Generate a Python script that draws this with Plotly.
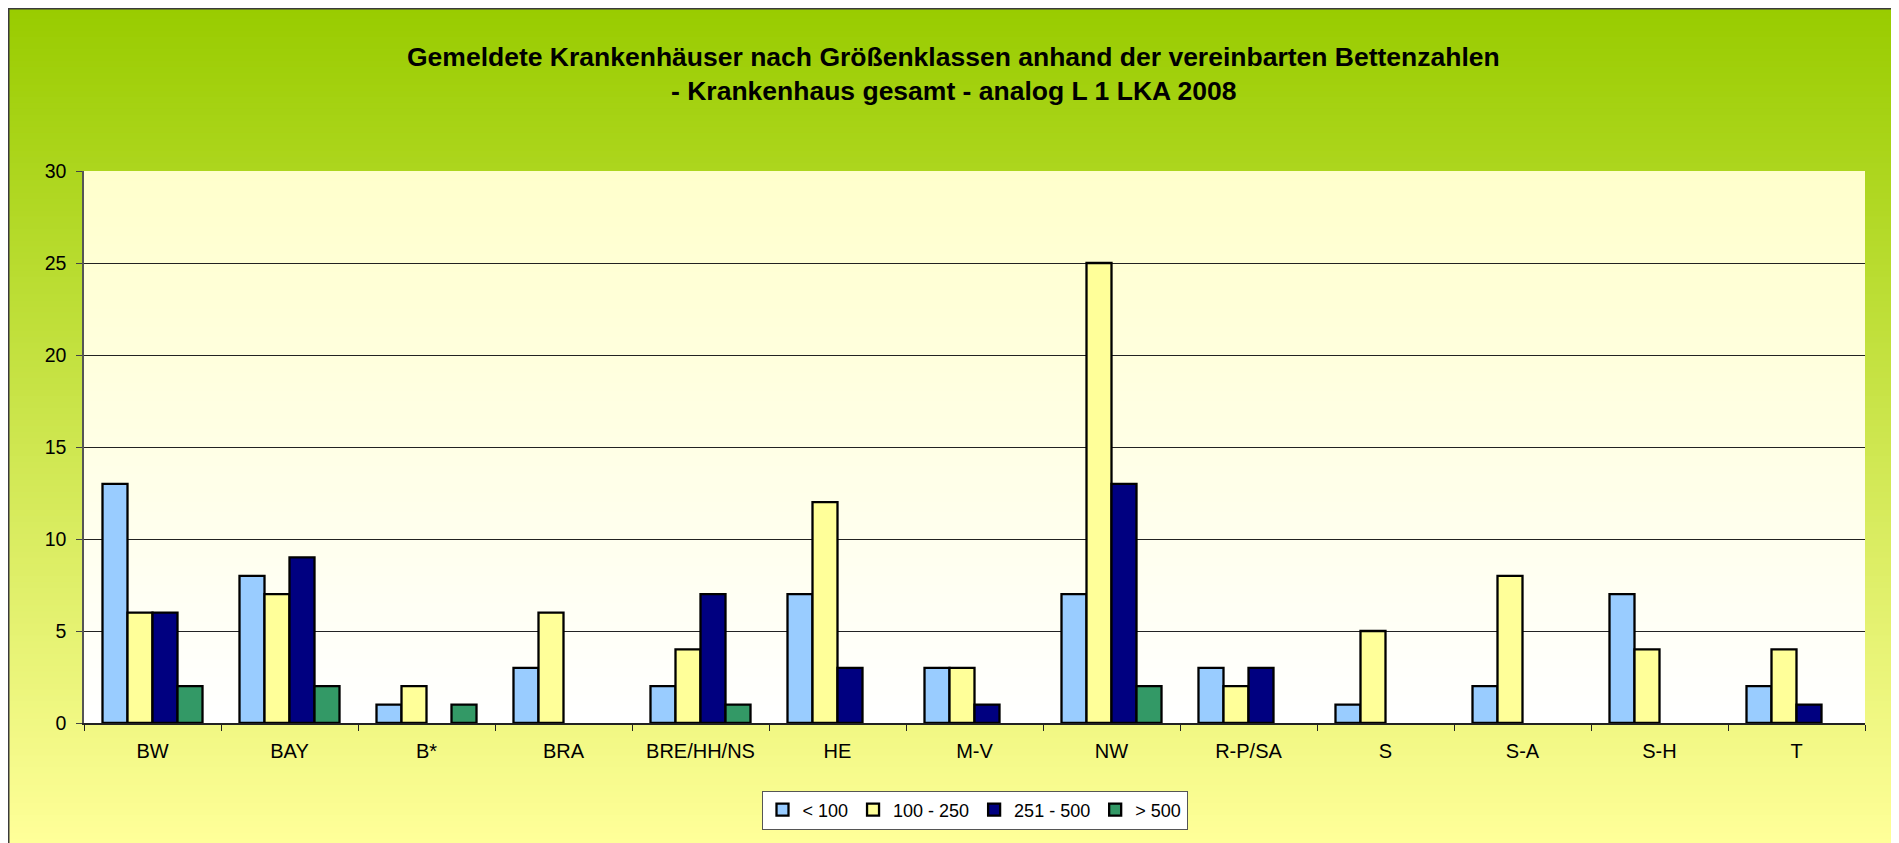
import plotly.graph_objects as go

categories = ["BW", "BAY", "B*", "BRA", "BRE/HH/NS", "HE", "M-V", "NW", "R-P/SA", "S", "S-A", "S-H", "T"]
series_names = ["< 100", "100 - 250", "251 - 500", "> 500"]
s_lt100 = [13, 8, 1, 3, 2, 7, 3, 7, 3, 1, 2, 7, 2]
s_100_250 = [6, 7, 2, 6, 4, 12, 3, 25, 2, 5, 8, 4, 4]
s_251_500 = [6, 9, 0, 0, 7, 3, 1, 13, 3, 0, 0, 0, 1]
s_gt500 = [2, 2, 1, 0, 1, 0, 0, 2, 0, 0, 0, 0, 0]
series_values = [s_lt100, s_100_250, s_251_500, s_gt500]
colors = ["#99CCFF", "#FFFF99", "#000080", "#339966"]

title1 = "Gemeldete Krankenhäuser nach Größenklassen anhand der vereinbarten Bettenzahlen"
title2 = "- Krankenhaus gesamt - analog L 1 LKA 2008"

# The page body adds an 8px offset; figure coordinates = screen - 8
OFF = 8
W, H = 1899 - OFF, 843 - OFF
L, R, T, B = 84 - OFF, 1865 - OFF, 171 - OFF, 723 - OFF
PW, PH = R - L, B - T

def px2x(px):
    return (px - L) / PW

def py2y(py):
    return (B - py) / PH

def lerp(c1, c2, t):
    return "rgb(%d,%d,%d)" % tuple(round(a + (b - a) * t) for a, b in zip(c1, c2))

fig = go.Figure()
for name, vals, col in zip(series_names, series_values, colors):
    fig.add_trace(go.Bar(
        x=categories,
        y=[v if v != 0 else None for v in vals],
        name=name,
        marker=dict(color=col, line=dict(color="#000000", width=2.3)),
    ))

shapes = []
# paper gradient (screen y from 7 to 843)
top_c, bot_c = (153, 204, 0), (255, 255, 153)
y0p, y1p = 7 - OFF, 845 - OFF
N = 140
for i in range(N):
    a = y0p + (y1p - y0p) * i / N
    b = y0p + (y1p - y0p) * (i + 1) / N + 1
    shapes.append(dict(type="rect", xref="paper", yref="paper", layer="below",
                       x0=px2x(0), x1=px2x(1896 - OFF), y0=py2y(a), y1=py2y(b),
                       fillcolor=lerp(top_c, bot_c, i / (N - 1)), line=dict(width=0)))
# plot-area gradient
pt_c, pb_c = (255, 255, 204), (255, 255, 255)
M = 60
for i in range(M):
    a = T + PH * i / M
    b = T + PH * (i + 1) / M + 1
    if b > B:
        b = B
    shapes.append(dict(type="rect", xref="paper", yref="paper", layer="below",
                       x0=0, x1=1, y0=py2y(a), y1=py2y(b),
                       fillcolor=lerp(pt_c, pb_c, i / (M - 1)), line=dict(width=0)))
# outer border
shapes.append(dict(type="rect", xref="paper", yref="paper", layer="below",
                   x0=px2x(0.75), x1=px2x(1896 - OFF), y0=py2y(0.75), y1=py2y(H + 5),
                   fillcolor="rgba(0,0,0,0)", line=dict(color="#3a3a3a", width=1.5)))
shapes.append(dict(type="line", xref="paper", yref="paper", layer="below",
                   x0=px2x(1896 - OFF), x1=px2x(1896 - OFF), y0=py2y(1), y1=py2y(H + 5),
                   line=dict(color="#333333", width=2.5)))

font_fam = "Liberation Sans, Arial, sans-serif"

fig.update_layout(
    width=W, height=H,
    margin=dict(l=L, r=W - R, t=T, b=H - B),
    paper_bgcolor="#FFFFFF",
    plot_bgcolor="rgba(0,0,0,0)",
    barmode="group",
    bargap=0.27,
    bargroupgap=0,
    shapes=shapes,
    font=dict(family=font_fam, color="#000000", size=19),
    showlegend=True,
    legend=dict(orientation="h", x=0.5, xanchor="center", y=py2y(810 - OFF), yanchor="middle",
                bgcolor="#FFFFFF", bordercolor="#555555", borderwidth=1,
                font=dict(size=18, family=font_fam), traceorder="normal"),
    annotations=[
        dict(text="<b>%s</b>" % title1, xref="paper", yref="paper", x=px2x(W / 2), y=py2y(57 - OFF),
             xanchor="center", yanchor="middle", showarrow=False, font=dict(size=26.5, family=font_fam)),
        dict(text="<b>%s</b>" % title2, xref="paper", yref="paper", x=px2x(W / 2), y=py2y(91 - OFF),
             xanchor="center", yanchor="middle", showarrow=False, font=dict(size=26.5, family=font_fam)),
    ],
)
fig.update_xaxes(showline=True, linecolor="#222222", linewidth=1.5, ticks="outside", tickson="boundaries",
                 ticklen=6, tickcolor="#222222", showgrid=False, ticklabelstandoff=9,
                 tickfont=dict(size=20))
fig.update_yaxes(range=[0, 30], dtick=5, showline=True, linecolor="#555555", linewidth=1.5,
                 ticks="outside", ticklen=6, tickcolor="#444444", showgrid=True,
                 gridcolor="#222222", gridwidth=1, zeroline=False, ticklabelstandoff=6,
                 tickfont=dict(size=19.5))

fig.write_html("out.html")
